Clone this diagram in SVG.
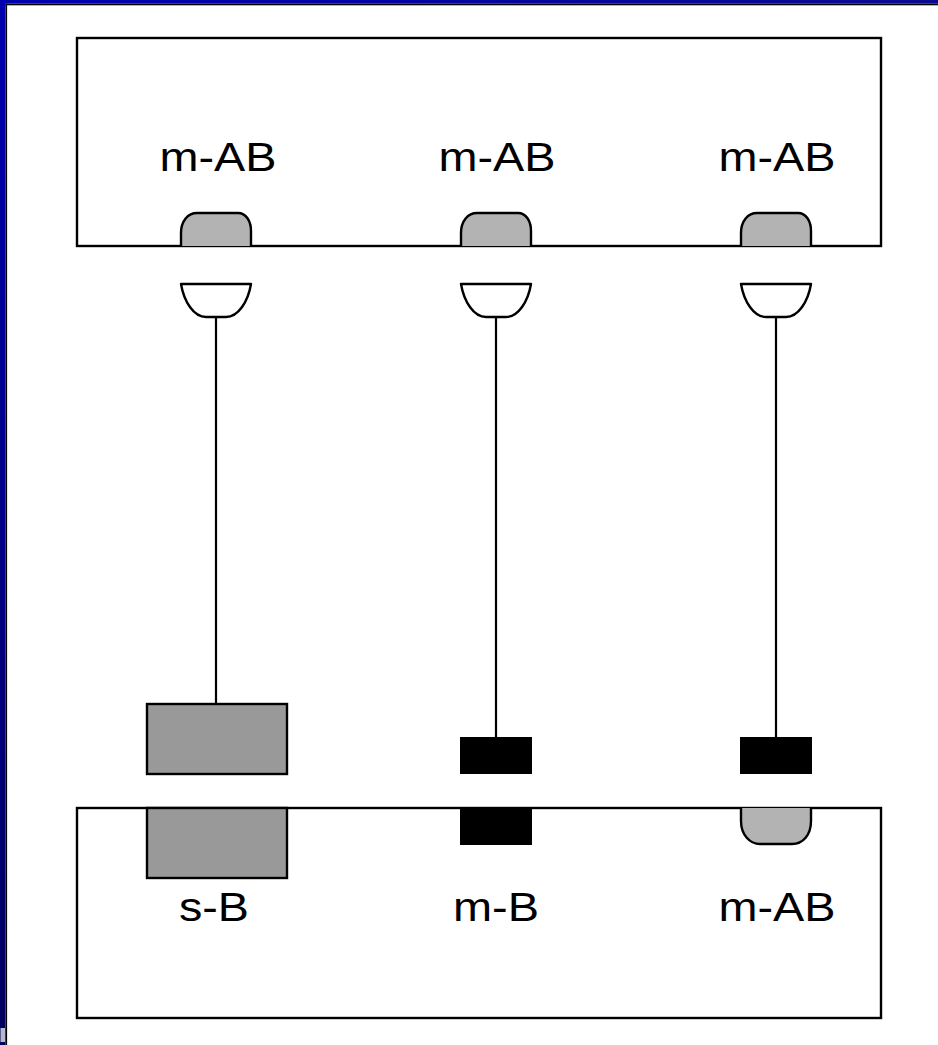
<svg xmlns="http://www.w3.org/2000/svg" width="938" height="1045" viewBox="0 0 938 1045">
  <defs>
    <linearGradient id="leftBlue" x1="0" y1="0" x2="0" y2="1">
      <stop offset="0" stop-color="#0000B0"/>
      <stop offset="1" stop-color="#000060"/>
    </linearGradient>
    <linearGradient id="topBlue" x1="0" y1="0" x2="1" y2="0">
      <stop offset="0" stop-color="#0000B0"/>
      <stop offset="1" stop-color="#0A0A90"/>
    </linearGradient>
    <style>
      .box { fill: #ffffff; stroke: #000000; stroke-width: 2.4; }
      .bump { fill: #b3b3b3; stroke: #000000; stroke-width: 2.4; stroke-linejoin: round; }
      .cup { fill: #ffffff; stroke: #000000; stroke-width: 2.4; stroke-linejoin: round; }
      .grayblk { fill: #999999; stroke: #000000; stroke-width: 2.4; }
      .blackblk { fill: #000000; stroke: #000000; stroke-width: 1; }
      .wire { stroke: #000000; stroke-width: 2.2; fill: none; }
      .lbl { font-family: "Liberation Sans", Arial, sans-serif; font-size: 41px; fill: #000000; text-anchor: middle; }
    </style>
  </defs>

  <rect x="0" y="0" width="938" height="1045" fill="#ffffff"/>
  <!-- frame -->
  <rect x="0" y="0" width="938" height="3.5" fill="url(#topBlue)"/>
  <rect x="0" y="0" width="5.5" height="1045" fill="url(#leftBlue)"/>
  <rect x="5.5" y="3.5" width="932.5" height="1.8" fill="#000000"/>
  <rect x="5.5" y="3.5" width="1.6" height="1041.5" fill="#000000"/>
  <rect x="0.5" y="1028" width="4.5" height="14" fill="#b8b8c8"/>

  <g id="top-node">
    <rect class="box" x="77" y="38" width="804" height="208"/>
    <text class="lbl" x="218" y="171" textLength="117" lengthAdjust="spacingAndGlyphs">m-AB</text>
    <text class="lbl" x="497" y="171" textLength="117" lengthAdjust="spacingAndGlyphs">m-AB</text>
    <text class="lbl" x="777" y="171" textLength="117" lengthAdjust="spacingAndGlyphs">m-AB</text>
    <path class="bump" d="M181,246 V233 C181,221 188,213 197,213 H238 C246,213 251,221 251,231 V246"/>
    <path class="bump" d="M461,246 V233 C461,221 468,213 477,213 H518 C526,213 531,221 531,231 V246"/>
    <path class="bump" d="M741,246 V233 C741,221 748,213 757,213 H798 C806,213 811,221 811,231 V246"/>
  </g>

  <g id="bottom-node">
    <rect class="box" x="77" y="808" width="804" height="210"/>
    <rect class="grayblk" x="147" y="808" width="140" height="70"/>
    <rect class="blackblk" x="460.5" y="808.5" width="71" height="36"/>
    <path class="bump" d="M741,808 V821 C741,835 750,844 760,844 H792 C803,844 811,835 811,821 V808"/>
    <text class="lbl" x="214" y="921" textLength="70" lengthAdjust="spacingAndGlyphs">s-B</text>
    <text class="lbl" x="496" y="921" textLength="86" lengthAdjust="spacingAndGlyphs">m-B</text>
    <text class="lbl" x="777" y="921" textLength="117" lengthAdjust="spacingAndGlyphs">m-AB</text>
  </g>

  <g id="connectors">
    <line class="wire" x1="216" y1="317" x2="216" y2="704"/>
    <line class="wire" x1="496" y1="317" x2="496" y2="737"/>
    <line class="wire" x1="776" y1="317" x2="776" y2="737"/>
  </g>

  <g id="plug-1">
    <path class="cup" d="M181,284 H251 C248,302 238,317 226,317 H206 C194,317 184,302 181,284 Z"/>
    <rect class="grayblk" x="147" y="704" width="140" height="70"/>
  </g>
  <g id="plug-2">
    <path class="cup" d="M461,284 H531 C528,302 518,317 506,317 H486 C474,317 464,302 461,284 Z"/>
    <rect class="blackblk" x="460.5" y="737.5" width="71" height="36"/>
  </g>
  <g id="plug-3">
    <path class="cup" d="M741,284 H811 C808,302 798,317 786,317 H766 C754,317 744,302 741,284 Z"/>
    <rect class="blackblk" x="740.5" y="737.5" width="71" height="36"/>
  </g>
</svg>
